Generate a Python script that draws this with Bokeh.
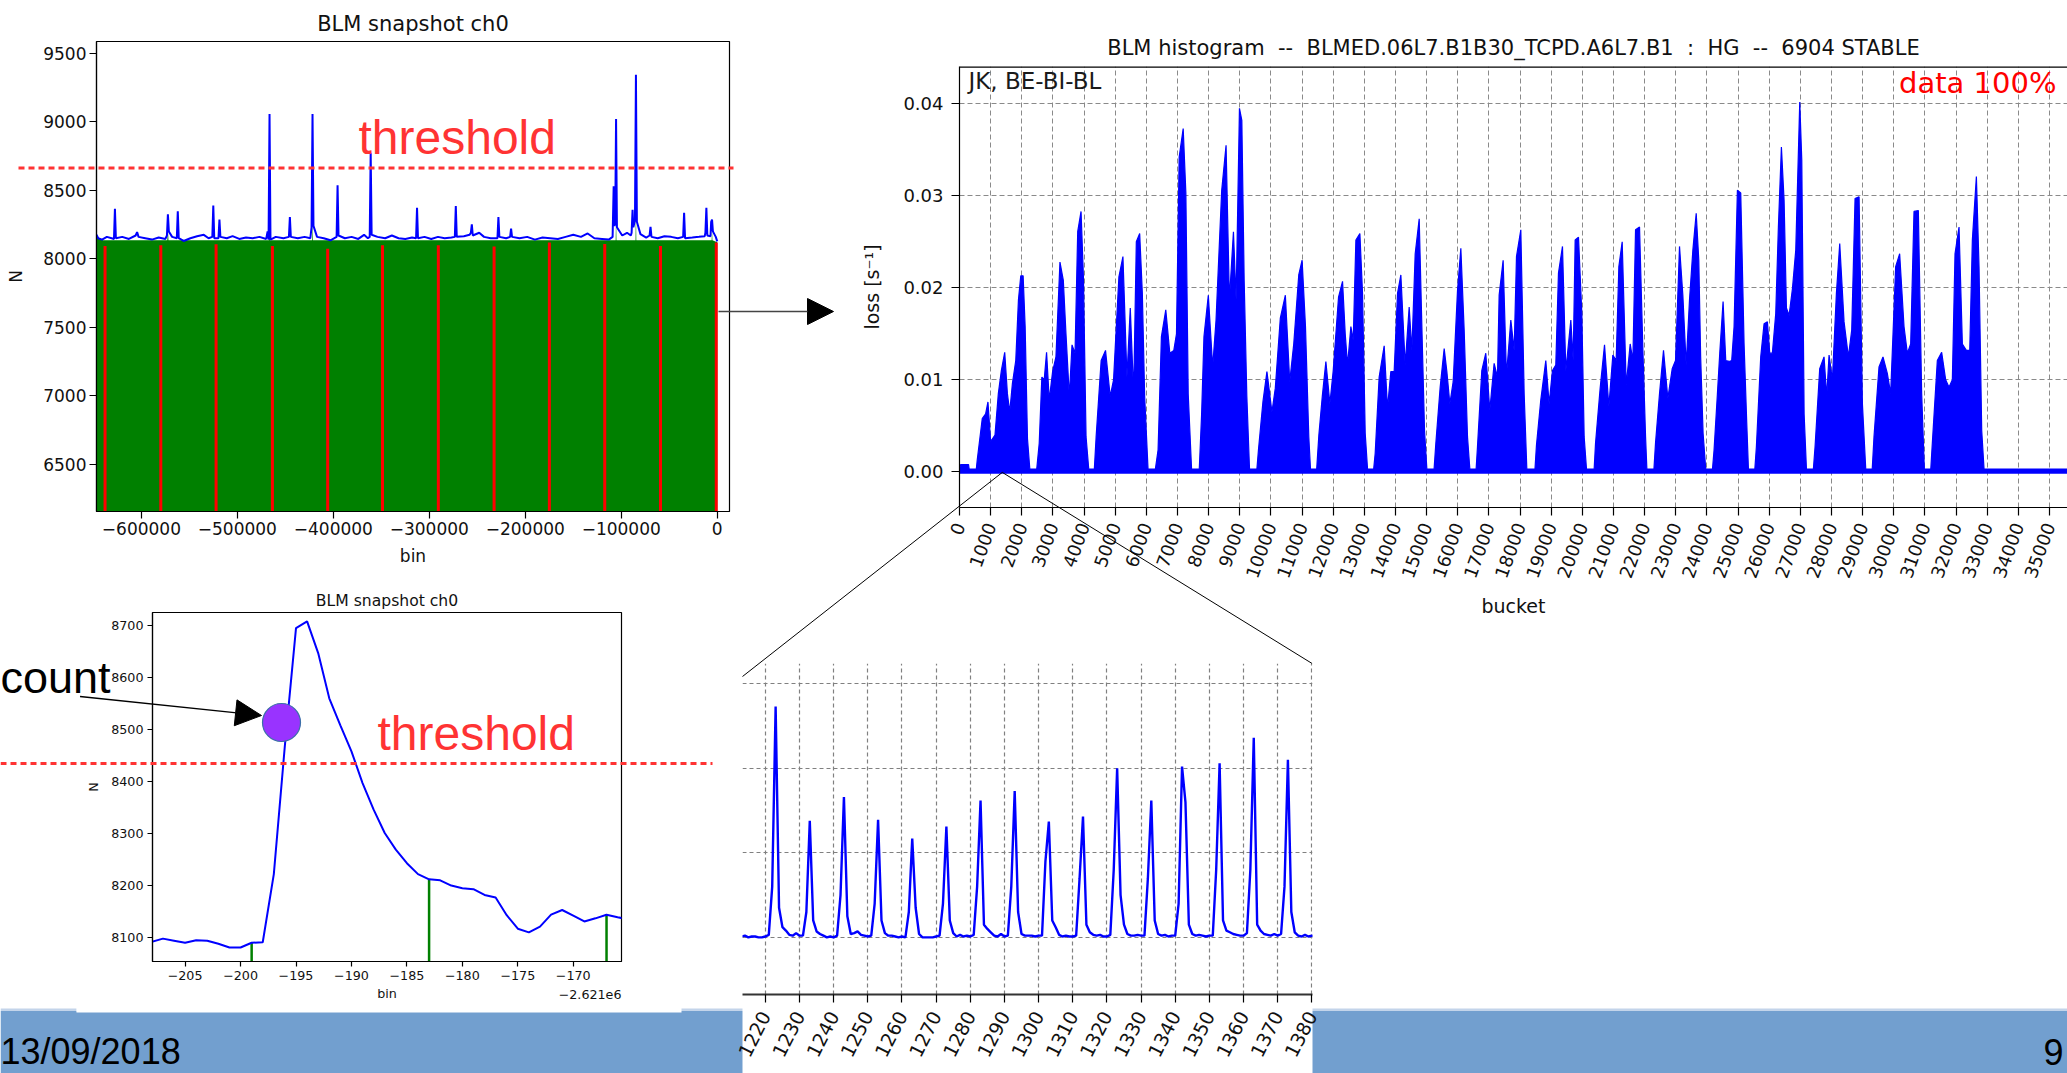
import math
from bokeh.plotting import figure
from bokeh.models import Range1d, FixedTicker, NumeralTickFormatter, Label, Arrow, NormalHead, Grid, Span
from bokeh.embed import file_html
from bokeh.resources import INLINE
from bokeh.core.properties import value

PAGE_W, PAGE_H = 2067, 1073

# ---------------- chart 1 : BLM snapshot ch0 (full snapshot) ----------------
SNAP_BIN = [-646800, -645000, -641000, -636000, -631000, -628600, -627600, -626600, -620000, -613000,
            -606000, -604500, -603000, -596000, -589000, -582000, -575000, -573400, -572400, -571400,
            -568000, -563100, -562100, -561100, -556000, -549000, -542000, -535000, -530000, -526100,
            -525100, -524100, -519700, -518700, -517700, -511000, -505000, -498000, -491000, -484000,
            -477000, -470000, -468500, -467500, -466500, -465500, -460000, -452000, -446300, -445300,
            -444300, -437000, -430000, -424000, -422700, -421700, -420700, -417000, -410000, -403000,
            -396600, -395600, -394600, -388000, -381000, -374000, -368000, -364000, -362100, -361100,
            -360100, -354000, -346000, -339000, -332000, -325000, -318000, -313800, -312800, -311800,
            -305000, -298000, -291000, -284000, -277000, -273400, -272400, -271400, -264000, -258000,
            -256700, -255700, -254700, -248000, -243000, -236000, -229000, -228000, -227000, -220000,
            -215800, -214800, -213800, -206000, -198000, -190000, -182000, -174000, -166000, -158000,
            -150000, -142000, -135000, -128000, -120000, -113000, -109000, -107900, -107000, -106300,
            -105400, -104500, -99000, -94000, -90000, -89200, -88200, -87400, -85700, -84700,
            -83700, -80000, -74000, -70500, -69500, -68500, -62000, -55000, -48000, -41000,
            -35500, -34500, -33500, -26000, -19000, -13000, -12300, -11300, -10300, -7000,
            -6300, -5400, -4500, -1500, 0]
SNAP_N = [8175, 8150, 8140, 8160, 8150, 8145, 8365, 8150, 8160, 8145,
          8170, 8195, 8160, 8150, 8140, 8155, 8145, 8170, 8325, 8200,
          8160, 8150, 8347, 8150, 8130, 8150, 8165, 8175, 8150, 8160,
          8389, 8150, 8150, 8286, 8160, 8150, 8165, 8145, 8155, 8150,
          8160, 8145, 8200, 8140, 9058, 8140, 8160, 8150, 8160, 8304,
          8160, 8150, 8160, 8150, 8230, 9058, 8240, 8160, 8150, 8135,
          8160, 8537, 8170, 8150, 8160, 8145, 8175, 8150, 8160, 8775,
          8175, 8160, 8150, 8170, 8150, 8145, 8155, 8150, 8373, 8150,
          8160, 8145, 8160, 8150, 8155, 8160, 8386, 8160, 8165, 8175,
          8190, 8251, 8170, 8190, 8160, 8150, 8150, 8304, 8160, 8150,
          8160, 8220, 8160, 8150, 8160, 8140, 8155, 8150, 8145, 8160,
          8175, 8160, 8185, 8150, 8145, 8140, 8160, 8529, 8240, 8260,
          9021, 8230, 8170, 8190, 8170, 8190, 8357, 8230, 8280, 9344,
          8270, 8180, 8155, 8170, 8233, 8160, 8150, 8165, 8160, 8150,
          8160, 8336, 8150, 8155, 8160, 8165, 8190, 8373, 8170, 8165,
          8270, 8286, 8200, 8160, 8127]
SNAP_GREEN_BIN = [-646800, -640000, -573000, -572400, -571800, -466900, -466500, -466100, -422100, -421700,
                  -421300, -105800, -105400, -105000, -85100, -84700, -84300, -5800, -5400, -5000, 0]
SNAP_GREEN_N = [8160, 8135, 8135, 8220, 8135, 8135, 8286, 8135, 8135, 8286,
                8135, 8135, 8312, 8135, 8135, 8378, 8135, 8135, 8220, 8135, 8120]
SNAP_MARK_BIN = [-637900, -579800, -522200, -463500, -405900, -348800, -290600, -232500, -174900, -117200, -59100, -1000]
SNAP_MARK_TOP = [8093, 8098, 8106, 8093, 8074, 8098, 8098, 8090, 8119, 8108, 8093, 8119]
SNAP_XTICKS = [-600000, -500000, -400000, -300000, -200000, -100000, 0]
SNAP_XLABELS = ["\u2212600000", "\u2212500000", "\u2212400000", "\u2212300000", "\u2212200000", "\u2212100000", "0"]
SNAP_YTICKS = [6500, 7000, 7500, 8000, 8500, 9000, 9500]
SNAP_XLIM = (-646800, 12800)
SNAP_YLIM = (6154, 9587)

# ---------------- chart 2 : BLM histogram ----------------
HIST_BUCKET = [0, 40, 290, 310, 540,
    570, 731, 839, 914, 1000, 1140, 1247, 1344, 1452, 1538, 1613, 1699, 1807, 1893, 1968, 2043, 2108, 2183, 2258, 2480,
    2560, 2645, 2720, 2796, 2882, 2990, 3097, 3226, 3334, 3419, 3527, 3613, 3710, 3796, 3903, 3979, 4064, 4150, 4330,
    4387, 4549, 4689, 4839, 4947, 5119, 5248, 5377, 5484, 5592, 5678, 5786, 5871, 5946, 6054, 6290,
    6377, 6484, 6624, 6753, 6882, 6968, 7054, 7183, 7269, 7344, 7452, 7700,
    7775, 7850, 7990, 8130, 8238, 8420, 8560, 8667, 8797, 8882, 8990, 9066, 9141, 9227, 9313, 9550,
    9603, 9743, 9872, 10033, 10141, 10302, 10464, 10604, 10733, 10894, 11002, 11110, 11217, 11271, 11470,
    11540, 11650, 11765, 11894, 12001, 12172, 12300, 12386, 12461, 12568, 12643, 12729, 12857, 12942, 13028, 13103, 13300,
    13348, 13476, 13637, 13744, 13851, 13958, 14066, 14173, 14312, 14440, 14526, 14633, 14762, 14847, 14933, 15008, 15240,
    15296, 15435, 15564, 15650, 15746, 15853, 15992, 16099, 16206, 16313, 16388, 16590,
    16633, 16772, 16900, 17029, 17168, 17275, 17329, 17457, 17564, 17704, 17811, 17886, 18025, 18132, 18218, 18480,
    18527, 18666, 18827, 18934, 19041, 19148, 19234, 19363, 19470, 19631, 19706, 19770, 19877, 19984, 20059, 20134, 20380,
    20424, 20573, 20713, 20852, 20980, 21087, 21173, 21280, 21409, 21537, 21623, 21709, 21837, 21945, 22031, 22073, 22300,
    22350, 22479, 22607, 22746, 22886, 22993, 23121, 23228, 23335, 23442, 23550, 23657, 23740, 23800, 23878, 23963, 24180,
    24231, 24338, 24413, 24520, 24606, 24713, 24797, 24873, 24980, 25087, 25194, 25280, 25334, 25540,
    25589, 25729, 25836, 25943, 26018, 26103, 26211, 26296, 26393, 26479, 26554, 26640, 26747, 26854, 26982, 27047, 27122, 27197, 27420,
    27473, 27623, 27762, 27848, 27923, 28030, 28159, 28266, 28405, 28544, 28651, 28758, 28887, 28994, 29101, 29310,
    29366, 29527, 29655, 29794, 29901, 30062, 30190, 30330, 30437, 30544, 30651, 30790, 30897, 30983, 31190,
    31239, 31400, 31539, 31668, 31775, 31882, 31968, 32097, 32204, 32332, 32440, 32525, 32654, 32739, 32825, 32900, 35640]
HIST_LOSS = [0.0003, 0.0008, 0.0008, 0.0003, 0.0003,
    0.0013, 0.0058, 0.0063, 0.0076, 0.0033, 0.0040, 0.0085, 0.0110, 0.0130, 0.0085, 0.0065, 0.0096, 0.0121, 0.0187, 0.0213, 0.0213, 0.0158, 0.0036, 0.0003, 0.0003,
    0.0031, 0.0103, 0.0100, 0.0130, 0.0078, 0.0109, 0.0125, 0.0228, 0.0208, 0.0150, 0.0082, 0.0138, 0.0129, 0.0261, 0.0283, 0.0212, 0.0038, 0.0003, 0.0003,
    0.0038, 0.0121, 0.0132, 0.0082, 0.0100, 0.0212, 0.0234, 0.0103, 0.0178, 0.0085, 0.0250, 0.0259, 0.0194, 0.0082, 0.0003, 0.0003,
    0.0024, 0.0147, 0.0176, 0.0129, 0.0132, 0.0150, 0.0342, 0.0373, 0.0303, 0.0085, 0.0003, 0.0003,
    0.0063, 0.0147, 0.0192, 0.0114, 0.0165, 0.0306, 0.0355, 0.0187, 0.0261, 0.0187, 0.0395, 0.0382, 0.0208, 0.0082, 0.0003, 0.0003,
    0.0025, 0.0076, 0.0109, 0.0065, 0.0091, 0.0167, 0.0192, 0.0098, 0.0139, 0.0214, 0.0230, 0.0158, 0.0038, 0.0003, 0.0003,
    0.0040, 0.0082, 0.0120, 0.0074, 0.0110, 0.0190, 0.0207, 0.0150, 0.0116, 0.0158, 0.0143, 0.0252, 0.0259, 0.0194, 0.0042, 0.0003, 0.0003,
    0.0020, 0.0103, 0.0137, 0.0069, 0.0109, 0.0109, 0.0194, 0.0214, 0.0116, 0.0179, 0.0132, 0.0237, 0.0275, 0.0158, 0.0045, 0.0003, 0.0003,
    0.0031, 0.0092, 0.0134, 0.0109, 0.0074, 0.0098, 0.0197, 0.0243, 0.0154, 0.0038, 0.0003, 0.0003,
    0.0027, 0.0110, 0.0129, 0.0067, 0.0118, 0.0103, 0.0192, 0.0230, 0.0105, 0.0165, 0.0132, 0.0234, 0.0263, 0.0085, 0.0003, 0.0003,
    0.0029, 0.0078, 0.0121, 0.0074, 0.0110, 0.0116, 0.0216, 0.0245, 0.0110, 0.0165, 0.0121, 0.0252, 0.0255, 0.0172, 0.0038, 0.0003, 0.0003,
    0.0031, 0.0091, 0.0138, 0.0071, 0.0127, 0.0121, 0.0223, 0.0250, 0.0094, 0.0139, 0.0121, 0.0263, 0.0266, 0.0132, 0.0038, 0.0003, 0.0003,
    0.0031, 0.0085, 0.0132, 0.0080, 0.0112, 0.0121, 0.0245, 0.0192, 0.0116, 0.0187, 0.0241, 0.0281, 0.0230, 0.0125, 0.0042, 0.0003, 0.0003,
    0.0024, 0.0085, 0.0129, 0.0185, 0.0121, 0.0120, 0.0121, 0.0158, 0.0306, 0.0303, 0.0139, 0.0053, 0.0003, 0.0003,
    0.0027, 0.0125, 0.0161, 0.0163, 0.0129, 0.0129, 0.0172, 0.0266, 0.0353, 0.0295, 0.0178, 0.0170, 0.0199, 0.0241, 0.0402, 0.0339, 0.0063, 0.0003, 0.0003,
    0.0027, 0.0112, 0.0125, 0.0082, 0.0127, 0.0100, 0.0194, 0.0248, 0.0163, 0.0125, 0.0154, 0.0297, 0.0299, 0.0074, 0.0003, 0.0003,
    0.0038, 0.0114, 0.0125, 0.0107, 0.0085, 0.0223, 0.0237, 0.0158, 0.0129, 0.0139, 0.0283, 0.0284, 0.0085, 0.0003, 0.0003,
    0.0031, 0.0121, 0.0130, 0.0100, 0.0092, 0.0100, 0.0237, 0.0266, 0.0139, 0.0132, 0.0132, 0.0252, 0.0321, 0.0223, 0.0045, 0.0003, 0.0003]
HIST_XTICKS = [0, 1000, 2000, 3000, 4000, 5000, 6000, 7000, 8000, 9000, 10000, 11000, 12000, 13000, 14000, 15000, 16000, 17000,
               18000, 19000, 20000, 21000, 22000, 23000, 24000, 25000, 26000, 27000, 28000, 29000, 30000, 31000, 32000, 33000, 34000, 35000]
HIST_YTICKS = [0.00, 0.01, 0.02, 0.03, 0.04]
HIST_XLIM = (0, 35580)          # the page cuts the histogram frame just before its end (35640)
HIST_YLIM = (-0.00387, 0.04405)
HIST_TITLE = "BLM histogram\u00a0 --\u00a0 BLMED.06L7.B1B30_TCPD.A6L7.B1\u00a0 :\u00a0 HG\u00a0 --\u00a0 6904 STABLE"

# ---------------- chart 3 : BLM snapshot ch0 (zoom on one peak) ----------------
PEAK_BIN = [-208, -207, -206, -205, -204, -203, -202, -201, -200, -199, -198, -197, -196, -195, -194,
            -193, -192, -191, -190, -189, -188, -187, -186, -185, -184, -183, -182, -181, -180, -179,
            -178, -177, -176, -175, -174, -173, -172, -171, -170, -169, -168, -167, -166, -165]
PEAK_N = [8092, 8098, 8094, 8090, 8095, 8094, 8088, 8081, 8081, 8090, 8091, 8222, 8470, 8695, 8708,
          8647, 8560, 8508, 8458, 8397, 8346, 8301, 8269, 8243, 8222, 8212, 8210, 8200, 8195, 8193,
          8182, 8177, 8143, 8117, 8110, 8121, 8144, 8153, 8142, 8131, 8137, 8144, 8139, 8135]
PEAK_MARK_BIN = [-199, -183, -167]
PEAK_MARK_TOP = [8090, 8212, 8144]
PEAK_XTICKS = [-205, -200, -195, -190, -185, -180, -175, -170]
PEAK_XLABELS = ["\u2212205", "\u2212200", "\u2212195", "\u2212190", "\u2212185", "\u2212180", "\u2212175", "\u2212170"]
PEAK_YTICKS = [8100, 8200, 8300, 8400, 8500, 8600, 8700]
PEAK_XLIM = (-207.94, -165.65)
PEAK_YLIM = (8054, 8725)
PEAK_OFFSET_TEXT = "\u22122.621e6"

# ---------------- chart 4 : zoom of histogram, buckets 1213..1381 ----------------
ZOOM_BUCKET = [1213, 1214, 1215, 1216, 1217, 1218, 1219, 1220, 1221, 1222,
               1223, 1224, 1225, 1226, 1227, 1228, 1229, 1230, 1231, 1232,
               1233, 1234, 1235, 1236, 1237, 1238, 1239, 1240, 1241, 1242,
               1243, 1244, 1245, 1246, 1247, 1248, 1249, 1250, 1251, 1252,
               1253, 1254, 1255, 1256, 1257, 1258, 1259, 1260, 1261, 1262,
               1263, 1264, 1265, 1266, 1267, 1268, 1269, 1270, 1271, 1272,
               1273, 1274, 1275, 1276, 1277, 1278, 1279, 1280, 1281, 1282,
               1283, 1284, 1285, 1286, 1287, 1288, 1289, 1290, 1291, 1292,
               1293, 1294, 1295, 1296, 1297, 1298, 1299, 1300, 1301, 1302,
               1303, 1304, 1305, 1306, 1307, 1308, 1309, 1310, 1311, 1312,
               1313, 1314, 1315, 1316, 1317, 1318, 1319, 1320, 1321, 1322,
               1323, 1324, 1325, 1326, 1327, 1328, 1329, 1330, 1331, 1332,
               1333, 1334, 1335, 1336, 1337, 1338, 1339, 1340, 1341, 1342,
               1343, 1344, 1345, 1346, 1347, 1348, 1349, 1350, 1351, 1352,
               1353, 1354, 1355, 1356, 1357, 1358, 1359, 1360, 1361, 1362,
               1363, 1364, 1365, 1366, 1367, 1368, 1369, 1370, 1371, 1372,
               1373, 1374, 1375, 1376, 1377, 1378, 1379, 1380, 1381]
# loss in units of 2.5e-3 s^-1 (one horizontal grid step)
ZOOM_LOSS = [0.01, 0.02, 0.00, 0.01, 0.01, 0.00, 0.00, 0.01, 0.03, 0.60,
             2.73, 0.35, 0.12, 0.08, 0.03, 0.02, 0.05, 0.02, 0.02, 0.30,
             1.38, 0.20, 0.07, 0.04, 0.02, 0.00, 0.01, 0.00, 0.02, 0.50,
             1.66, 0.25, 0.04, 0.05, 0.07, 0.03, 0.02, 0.01, 0.02, 0.40,
             1.39, 0.20, 0.05, 0.02, 0.02, 0.01, 0.00, 0.01, 0.00, 0.30,
             1.17, 0.35, 0.04, 0.00, 0.00, 0.00, 0.00, 0.01, 0.02, 0.40,
             1.31, 0.20, 0.05, 0.01, 0.03, 0.01, 0.02, 0.01, 0.03, 0.60,
             1.62, 0.15, 0.10, 0.06, 0.02, 0.01, 0.04, 0.01, 0.02, 0.60,
             1.73, 0.30, 0.04, 0.02, 0.02, 0.02, 0.01, 0.02, 0.02, 0.90,
             1.37, 0.20, 0.12, 0.03, 0.01, 0.02, 0.01, 0.01, 0.02, 0.70,
             1.43, 0.15, 0.06, 0.03, 0.02, 0.03, 0.01, 0.01, 0.03, 0.80,
             2.00, 0.50, 0.15, 0.04, 0.02, 0.02, 0.03, 0.02, 0.02, 0.70,
             1.62, 0.20, 0.04, 0.02, 0.03, 0.01, 0.02, 0.02, 0.40, 2.02,
             1.60, 0.15, 0.04, 0.02, 0.03, 0.02, 0.01, 0.02, 0.02, 0.80,
             2.06, 0.20, 0.08, 0.06, 0.04, 0.03, 0.02, 0.02, 0.05, 0.80,
             2.36, 0.15, 0.08, 0.04, 0.03, 0.02, 0.04, 0.02, 0.04, 0.60,
             2.10, 0.30, 0.06, 0.02, 0.01, 0.03, 0.01, 0.02, 0.01]
ZOOM_XTICKS = [1220, 1230, 1240, 1250, 1260, 1270, 1280, 1290, 1300, 1310, 1320, 1330, 1340, 1350, 1360, 1370, 1380]
ZOOM_YTICKS = [0, 1, 2, 3]
ZOOM_XLIM = (1213.3, 1380.2)
ZOOM_YLIM = (-0.676, 3.24)

# ---------------- slide annotations (page pixel coordinates) ----------------
THRESH_X0 = [18, 0]
THRESH_X1 = [733, 712]
THRESH_Y = [167.5, 763]
THRESH_TEXT_X = [358, 377]
THRESH_TEXT_Y = [137, 733]
ZOOM_LINE_X0 = [1001.8, 1001.8]
ZOOM_LINE_Y0 = [471.9, 471.9]
ZOOM_LINE_X1 = [742, 1311.6]
ZOOM_LINE_Y1 = [676, 663]
FOOTER_TEXT = ["13/09/2018", "9"]
FOOTER_X = [0, 2043]
FOOTER_Y = [1051, 1051]

RED = "#ff3333"
BLUE = "#0000ff"
GREEN = "#008000"
FOOTER_BLUE = "#729fcf"
MPL_FONT = "DejaVu Sans"
SLIDE_FONT = "Liberation Sans"


def abs_style(left, top):
    return {"position": "absolute", "left": f"{left}px", "top": f"{top}px"}


def chart(left, top, fw, fh, xlim, ylim, borders, title=None):
    bl, bt, br, bb = borders
    p = figure(output_backend="svg", toolbar_location=None,
               frame_width=fw, frame_height=fh,
               x_range=Range1d(*xlim), y_range=Range1d(*ylim),
               min_border_left=bl, min_border_top=bt, min_border_right=br, min_border_bottom=bb,
               background_fill_color="white", border_fill_color="white",
               title=title, styles=abs_style(left, top))
    return p


def mpl_axes(p, tick_size, label_size, tick_len, standoff, label_standoff):
    p.outline_line_color = "black"
    p.outline_line_width = 1.2
    for ax in p.axis:
        ax.axis_line_color = "black"
        ax.axis_line_width = 1.2
        ax.major_tick_line_color = "black"
        ax.major_tick_line_width = 1.2
        ax.minor_tick_line_color = None
        ax.major_tick_out = tick_len
        ax.major_tick_in = 0
        ax.major_label_standoff = standoff
        ax.major_label_text_font = MPL_FONT
        ax.major_label_text_font_size = tick_size
        ax.major_label_text_color = "#111111"
        ax.axis_label_text_font = MPL_FONT
        ax.axis_label_text_font_size = label_size
        ax.axis_label_text_font_style = "normal"
        ax.axis_label_text_color = "#111111"
        ax.axis_label_standoff = label_standoff


def style_title(p, size, standoff):
    p.title.align = "center"
    p.title.text_font = MPL_FONT
    p.title.text_font_size = size
    p.title.text_font_style = "normal"
    p.title.text_color = "#111111"
    p.title.standoff = standoff


def page_figure(fill):
    f = figure(output_backend="svg", toolbar_location=None,
               frame_width=PAGE_W, frame_height=PAGE_H,
               x_range=Range1d(0, PAGE_W), y_range=Range1d(PAGE_H, 0),
               x_axis_location=None, y_axis_location=None, min_border=0,
               outline_line_color=None, styles=abs_style(0, 0))
    if fill:
        f.background_fill_color = "white"
        f.border_fill_color = "white"
    else:
        f.background_fill_alpha = 0
        f.border_fill_alpha = 0
    for g in f.select(type=Grid):
        g.visible = False
    return f


# ---------- background (slide footer) ----------
bg = page_figure(True)
bg.quad(left=[0], right=[PAGE_W], top=[1008], bottom=[1010.5], fill_color="#c3d4ea", line_color=None)
bg.quad(left=[0], right=[PAGE_W], top=[1010.5], bottom=[PAGE_H], fill_color=FOOTER_BLUE, line_color=None)
# white picture areas of the two pasted lower charts
bg.quad(left=[76, 742], right=[681, 1312], top=[580, 663], bottom=[1012, PAGE_H], fill_color="white", line_color=None)
bg.text(x=FOOTER_X, y=FOOTER_Y, text=FOOTER_TEXT, text_font=value(SLIDE_FONT), text_font_size=value("36px"),
        text_color="#000000", text_baseline="middle", text_align="left")

# ---------- chart 1 ----------
p1 = chart(0, 0, 633, 470, SNAP_XLIM, SNAP_YLIM, (96, 41, 11, 60), title="BLM snapshot ch0")
p1.varea(x=SNAP_GREEN_BIN, y1=SNAP_YLIM[0], y2=SNAP_GREEN_N, fill_color=GREEN)
p1.segment(x0=SNAP_MARK_BIN, y0=[SNAP_YLIM[0]] * len(SNAP_MARK_BIN), x1=SNAP_MARK_BIN, y1=SNAP_MARK_TOP,
           line_color="#ff0000", line_width=3)
p1.line(SNAP_BIN, SNAP_N, line_color=BLUE, line_width=2)
p1.xaxis.ticker = FixedTicker(ticks=SNAP_XTICKS)
p1.xaxis.major_label_overrides = dict(zip(SNAP_XTICKS, SNAP_XLABELS))
p1.yaxis.ticker = FixedTicker(ticks=SNAP_YTICKS)
p1.xaxis.axis_label = "bin"
p1.yaxis.axis_label = "N"
p1.grid.visible = False
mpl_axes(p1, "17px", "17px", 7, 3, 8)
p1.yaxis.axis_label_standoff = 14
style_title(p1, "21px", 12)

# ---------- chart 2 (frame runs off the right edge of the page) ----------
p2 = chart(838.7, 0, 1108, 441, HIST_XLIM, HIST_YLIM, (120, 66, 0, 0), title=HIST_TITLE)
p2.varea(x=HIST_BUCKET, y1=-0.0002, y2=HIST_LOSS, fill_color=BLUE)
p2.line(HIST_BUCKET, HIST_LOSS, line_color=BLUE, line_width=1.2)
p2.xaxis.ticker = FixedTicker(ticks=HIST_XTICKS)
p2.yaxis.ticker = FixedTicker(ticks=HIST_YTICKS)
p2.yaxis.formatter = NumeralTickFormatter(format="0.00")
p2.xaxis.major_label_orientation = math.radians(70)
p2.xaxis.axis_label = "bucket"
p2.yaxis.axis_label = "loss [s\u207b\u00b9]"
mpl_axes(p2, "18px", "19px", 8, 8, 10)
p2.outline_line_color = None
p2.add_layout(Span(location=HIST_YLIM[1], dimension="width", line_color="black", line_width=2.4))
p2.yaxis.axis_label_standoff = 17
p2.grid.grid_line_color = "#8a8a8a"
p2.grid.grid_line_dash = "5 3"
p2.grid.grid_line_width = 1
style_title(p2, "21px", 13)
p2.add_layout(Label(x=289, y=0.04249, text="JK, BE-BI-BL", text_font=MPL_FONT, text_font_size="23px",
                    text_color="#1a1a1a", text_baseline="middle", text_align="left"))
p2.add_layout(Label(x=35226, y=0.04226, text="data 100%", text_font=MPL_FONT, text_font_size="29px",
                    text_color="#ff0000", text_baseline="middle", text_align="right"))

# ---------- chart 3 ----------
p3 = chart(76, 580, 469, 349, PEAK_XLIM, PEAK_YLIM, (76, 32, 60, 51), title="BLM snapshot ch0")
p3.segment(x0=PEAK_MARK_BIN, y0=[PEAK_YLIM[0]] * len(PEAK_MARK_BIN), x1=PEAK_MARK_BIN, y1=PEAK_MARK_TOP,
           line_color=GREEN, line_width=2.5)
p3.line(PEAK_BIN, PEAK_N, line_color=BLUE, line_width=2)
p3.xaxis.ticker = FixedTicker(ticks=PEAK_XTICKS)
p3.xaxis.major_label_overrides = dict(zip(PEAK_XTICKS, PEAK_XLABELS))
p3.yaxis.ticker = FixedTicker(ticks=PEAK_YTICKS)
p3.xaxis.axis_label = "bin"
p3.yaxis.axis_label = "N"
p3.grid.visible = False
mpl_axes(p3, "12.7px", "12.7px", 5, 4, 3)
p3.yaxis.axis_label_standoff = 7
style_title(p3, "15.6px", 6)

# ---------- chart 4 (transparent side borders so rotated labels are not clipped) ----------
p4 = chart(712, 663, 570, 331, ZOOM_XLIM, ZOOM_YLIM, (30, 0, 30, 0))
p4.border_fill_alpha = 0
p4.line(ZOOM_BUCKET, ZOOM_LOSS, line_color=BLUE, line_width=2.4)
p4.xaxis.ticker = FixedTicker(ticks=ZOOM_XTICKS)
p4.yaxis.ticker = FixedTicker(ticks=ZOOM_YTICKS)
p4.xaxis.major_label_orientation = math.radians(63)
mpl_axes(p4, "19px", "19px", 8, 10, 5)
p4.xaxis.axis_line_width = 2.2
p4.xaxis.axis_line_color = "#333333"
p4.yaxis.visible = False
p4.outline_line_color = None
p4.grid.grid_line_color = "#808080"
p4.grid.grid_line_dash = "4 3"
p4.grid.grid_line_width = 1.2

# ---------- overlay (annotations on top) ----------
ov = page_figure(False)
ov.segment(x0=THRESH_X0, y0=THRESH_Y, x1=THRESH_X1, y1=THRESH_Y, line_color=RED, line_width=3, line_dash="6 4")
ov.text(x=THRESH_TEXT_X, y=THRESH_TEXT_Y, text=["threshold", "threshold"], text_font=value(SLIDE_FONT),
        text_font_size=value("48px"), text_color=RED, text_baseline="middle", text_align="left")
ov.segment(x0=ZOOM_LINE_X0, y0=ZOOM_LINE_Y0, x1=ZOOM_LINE_X1, y1=ZOOM_LINE_Y1, line_color="#000000", line_width=1)
ov.add_layout(Arrow(x_start=718, y_start=311, x_end=833, y_end=311, line_color="#444444", line_width=1.4,
                    end=NormalHead(size=26, fill_color="black", line_color="black")))
ov.add_layout(Arrow(x_start=79.5, y_start=696, x_end=261, y_end=715, line_color="#000000", line_width=1.3,
                    end=NormalHead(size=26, fill_color="black", line_color="black")))
ov.scatter(x=[281], y=[722], size=38, marker="circle", fill_color="#9933ff", line_color="#3a6fa8", line_width=1.2)
ov.text(x=[110], y=[677], text=["count"], text_font=value(SLIDE_FONT), text_font_size=value("45px"),
        text_color="#000000", text_baseline="middle", text_align="right")
ov.text(x=[621], y=[994], text=[PEAK_OFFSET_TEXT], text_font=value(MPL_FONT), text_font_size=value("12.7px"),
        text_color="#111111", text_baseline="middle", text_align="right")

# independent roots (no frame alignment between them), stacked in this order
with open("out.html", "w") as f:
    f.write(file_html([bg, p1, p2, p3, p4, ov], INLINE))
